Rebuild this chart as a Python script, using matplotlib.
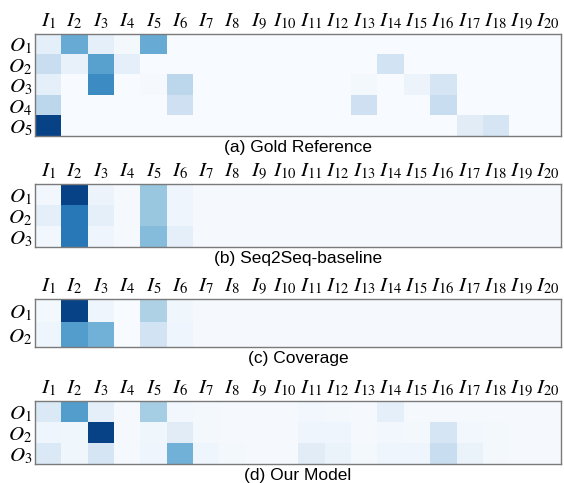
import matplotlib
matplotlib.use("Agg")
import matplotlib.pyplot as plt
import numpy as np

plt.rcParams["mathtext.fontset"] = "stix"
plt.rcParams["font.family"] = ["Liberation Sans", "DejaVu Sans"]

n_in = 20
in_labels = [rf"$I_{{{i}}}$" for i in range(1, n_in + 1)]

# attention weights, one row per output token (columns I1..I20)
gold = np.array([
    [0.10, 0.55, 0.10, 0.02, 0.55, 0, 0, 0, 0, 0, 0, 0, 0, 0, 0, 0, 0, 0, 0, 0],
    [0.25, 0.08, 0.60, 0.10, 0, 0, 0, 0, 0, 0, 0, 0, 0, 0.20, 0, 0, 0, 0, 0, 0],
    [0.10, 0, 0.70, 0, 0.01, 0.30, 0, 0, 0, 0, 0, 0, 0.02, 0, 0.06, 0.18, 0, 0, 0, 0],
    [0.30, 0, 0, 0, 0, 0.22, 0, 0, 0, 0, 0, 0, 0.22, 0, 0, 0.25, 0, 0, 0, 0],
    [1.00, 0, 0, 0, 0, 0, 0, 0, 0, 0, 0, 0, 0, 0, 0, 0, 0.12, 0.18, 0, 0],
])

seq2seq = np.array([
    [0.03, 1.00, 0.06, 0.01, 0.42, 0.05, 0.01, 0.01, 0.01, 0.01, 0.01, 0.01, 0.01, 0.01, 0.01, 0.01, 0.01, 0.01, 0.01, 0.01],
    [0.10, 0.78, 0.10, 0.01, 0.42, 0.05, 0.01, 0.01, 0.01, 0.01, 0.01, 0.01, 0.01, 0.01, 0.01, 0.01, 0.01, 0.01, 0.01, 0.01],
    [0.03, 0.78, 0.05, 0.01, 0.47, 0.10, 0.01, 0.01, 0.01, 0.01, 0.01, 0.01, 0.01, 0.01, 0.01, 0.01, 0.01, 0.01, 0.01, 0.01],
])

coverage = np.array([
    [0.02, 1.00, 0.05, 0.00, 0.35, 0.04, 0.01, 0.01, 0.01, 0.01, 0.01, 0.01, 0.01, 0.01, 0.01, 0.01, 0.01, 0.01, 0.01, 0.01],
    [0.05, 0.62, 0.52, 0.00, 0.20, 0.05, 0.01, 0.01, 0.01, 0.01, 0.01, 0.01, 0.01, 0.01, 0.01, 0.01, 0.01, 0.01, 0.01, 0.01],
])

ours = np.array([
    [0.15, 0.62, 0.10, 0.01, 0.38, 0.03, 0.02, 0.01, 0.01, 0.01, 0.03, 0.02, 0.01, 0.10, 0.01, 0.01, 0.01, 0.01, 0.01, 0.01],
    [0.05, 0.04, 1.00, 0.01, 0.04, 0.12, 0.02, 0.01, 0.01, 0.01, 0.05, 0.05, 0.01, 0.03, 0.02, 0.18, 0.03, 0.02, 0.01, 0.01],
    [0.15, 0.04, 0.18, 0.01, 0.05, 0.52, 0.05, 0.02, 0.01, 0.01, 0.12, 0.07, 0.02, 0.05, 0.05, 0.25, 0.07, 0.02, 0.01, 0.01],
])

panels = [
    (gold, "(a) Gold Reference", [0.062, 0.7184, 0.933, 0.2112]),
    (seq2seq, "(b) Seq2Seq-baseline", [0.062, 0.4886, 0.933, 0.1304]),
    (coverage, "(c) Coverage", [0.062, 0.2816, 0.933, 0.0994]),
    (ours, "(d) Our Model", [0.062, 0.0393, 0.933, 0.1304]),
]

fig = plt.figure(figsize=(5.64, 4.83), dpi=100)

for mat, caption, rect in panels:
    ax = fig.add_axes(rect)
    # vmax a bit above 1 so the strongest cell stays a mid-dark navy
    ax.imshow(mat, cmap="Blues", vmin=0, vmax=1.08, aspect="auto",
              interpolation="nearest")
    n_out = mat.shape[0]
    ax.xaxis.tick_top()
    ax.set_xticks(range(n_in))
    ax.set_xticklabels(in_labels, fontsize=15)
    ax.set_yticks(range(n_out))
    ax.set_yticklabels([rf"$O_{{{i}}}$" for i in range(1, n_out + 1)], fontsize=15)
    ax.tick_params(length=0, pad=2)
    for sp in ax.spines.values():
        sp.set_color("#7a7a7a")
        sp.set_linewidth(1.0)
    ax.xaxis.set_label_position("bottom")
    ax.set_xlabel(caption, fontsize=12.5, labelpad=3)

fig.savefig("out.png", dpi=100)
